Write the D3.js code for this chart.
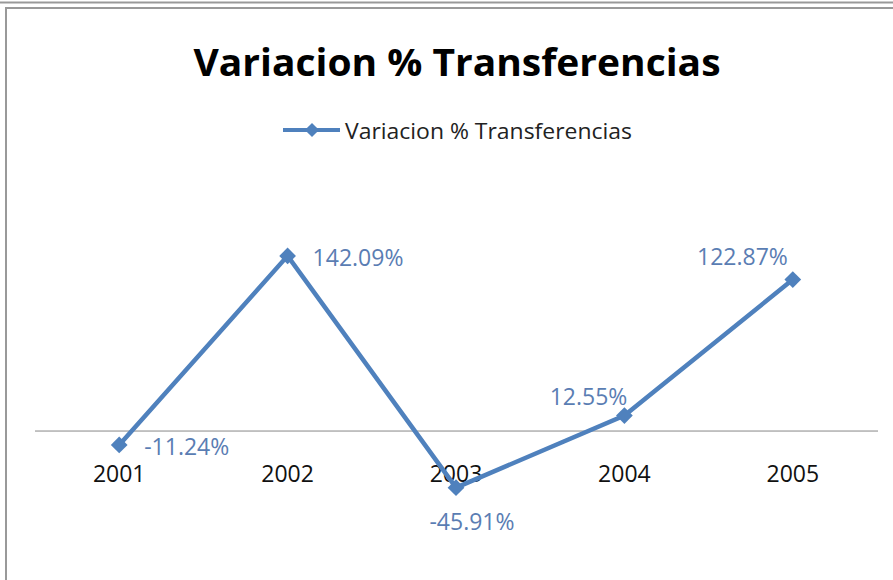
<!DOCTYPE html>
<html>
<head>
<meta charset="utf-8">
<script src="https://cdn.jsdelivr.net/npm/d3@7"></script>
<style>
  body { margin: 0; background: #fff; }
  text { font-family: "Open Sans", "Noto Sans", sans-serif; }
</style>
</head>
<body>
<div id="chart"></div>
<script>
// Datos del grafico
const years = ['2001', '2002', '2003', '2004', '2005'];
const values = [-11.24, 142.09, -45.91, 12.55, 122.87];
const valueLabels = ['-11.24%', '142.09%', '-45.91%', '12.55%', '122.87%'];
const labelPos = ['right', 'right', 'below', 'left', 'left'];
const seriesName = 'Variacion % Transferencias';

const W = 893, H = 580;
const blue = '#4f81bd';
const labelColor = '#5a7db3';

const svg = d3.select('#chart').append('svg')
  .attr('width', W).attr('height', H);

// Marco (recortado como en la captura)
svg.append('line').attr('x1', 0).attr('x2', W).attr('y1', 2.5).attr('y2', 2.5)
  .attr('stroke', '#999').attr('stroke-width', 2);
svg.append('line').attr('x1', 5).attr('x2', W).attr('y1', 8).attr('y2', 8)
  .attr('stroke', '#999').attr('stroke-width', 2);
svg.append('line').attr('x1', 6).attr('x2', 6).attr('y1', 8).attr('y2', H)
  .attr('stroke', '#999').attr('stroke-width', 2);

// Titulo
svg.append('text')
  .attr('x', 457).attr('y', 76)
  .attr('text-anchor', 'middle')
  .attr('font-size', 38).attr('font-weight', 'bold')
  .attr('fill', '#000')
  .attr('textLength', 527).attr('lengthAdjust', 'spacingAndGlyphs')
  .text('Variacion % Transferencias');

// Escalas
const x = d3.scaleBand().domain(years).range([35, 877]);
const y = d3.scaleLinear().domain([-60, 160]).range([505, 233.8]);

const diamondSq = d3.symbol().type(d3.symbolSquare).size(140);

// Leyenda
const lg = svg.append('g').attr('transform', 'translate(283,130)');
lg.append('line').attr('x1', 0).attr('x2', 57).attr('y1', 0).attr('y2', 0)
  .attr('stroke', blue).attr('stroke-width', 4);
lg.append('path').attr('d', d3.symbol().type(d3.symbolSquare).size(100))
  .attr('transform', 'translate(29,0) rotate(45)')
  .attr('fill', blue);
lg.append('text').attr('x', 62).attr('y', 9)
  .attr('font-size', 22).attr('fill', '#222')
  .attr('textLength', 287).attr('lengthAdjust', 'spacingAndGlyphs')
  .text(seriesName);

// Linea de cero
svg.append('line')
  .attr('x1', 35).attr('x2', 878)
  .attr('y1', y(0)).attr('y2', y(0))
  .attr('stroke', '#888').attr('stroke-width', 1);

// Etiquetas del eje
const xAxis = d3.axisBottom(x).tickSize(0).tickPadding(0);
const gx = svg.append('g').attr('transform', `translate(0,${y(0)})`).call(xAxis);
gx.select('.domain').remove();
gx.selectAll('text')
  .attr('y', 51).attr('dy', null)
  .attr('font-size', 23).attr('fill', '#111')
  .style('font-family', '"Open Sans", sans-serif');

// Serie
const cx = (d, i) => x(years[i]) + x.bandwidth() / 2;
const line = d3.line()
  .x((d, i) => cx(d, i))
  .y(d => y(d));

svg.append('path')
  .datum(values)
  .attr('d', line)
  .attr('fill', 'none')
  .attr('stroke', blue)
  .attr('stroke-width', 4.5)
  .attr('stroke-linejoin', 'miter');

values.forEach((v, i) => {
  svg.append('path')
    .attr('d', diamondSq)
    .attr('transform', `translate(${cx(v, i)},${y(v)}) rotate(45)`)
    .attr('fill', blue);
});

// Etiquetas de datos
values.forEach((v, i) => {
  const px = cx(v, i), py = y(v);
  const t = svg.append('text')
    .attr('font-size', 23).attr('fill', labelColor)
    .text(valueLabels[i]);
  if (labelPos[i] === 'right') {
    t.attr('x', px + 25).attr('y', py + 10).attr('text-anchor', 'start');
  } else if (labelPos[i] === 'below') {
    t.attr('x', px + 16).attr('y', py + 42).attr('text-anchor', 'middle');
  } else {
    t.attr('x', px + (i === 3 ? 3 : -5)).attr('y', py - (i === 3 ? 11 : 15)).attr('text-anchor', 'end');
  }
});
</script>
</body>
</html>
